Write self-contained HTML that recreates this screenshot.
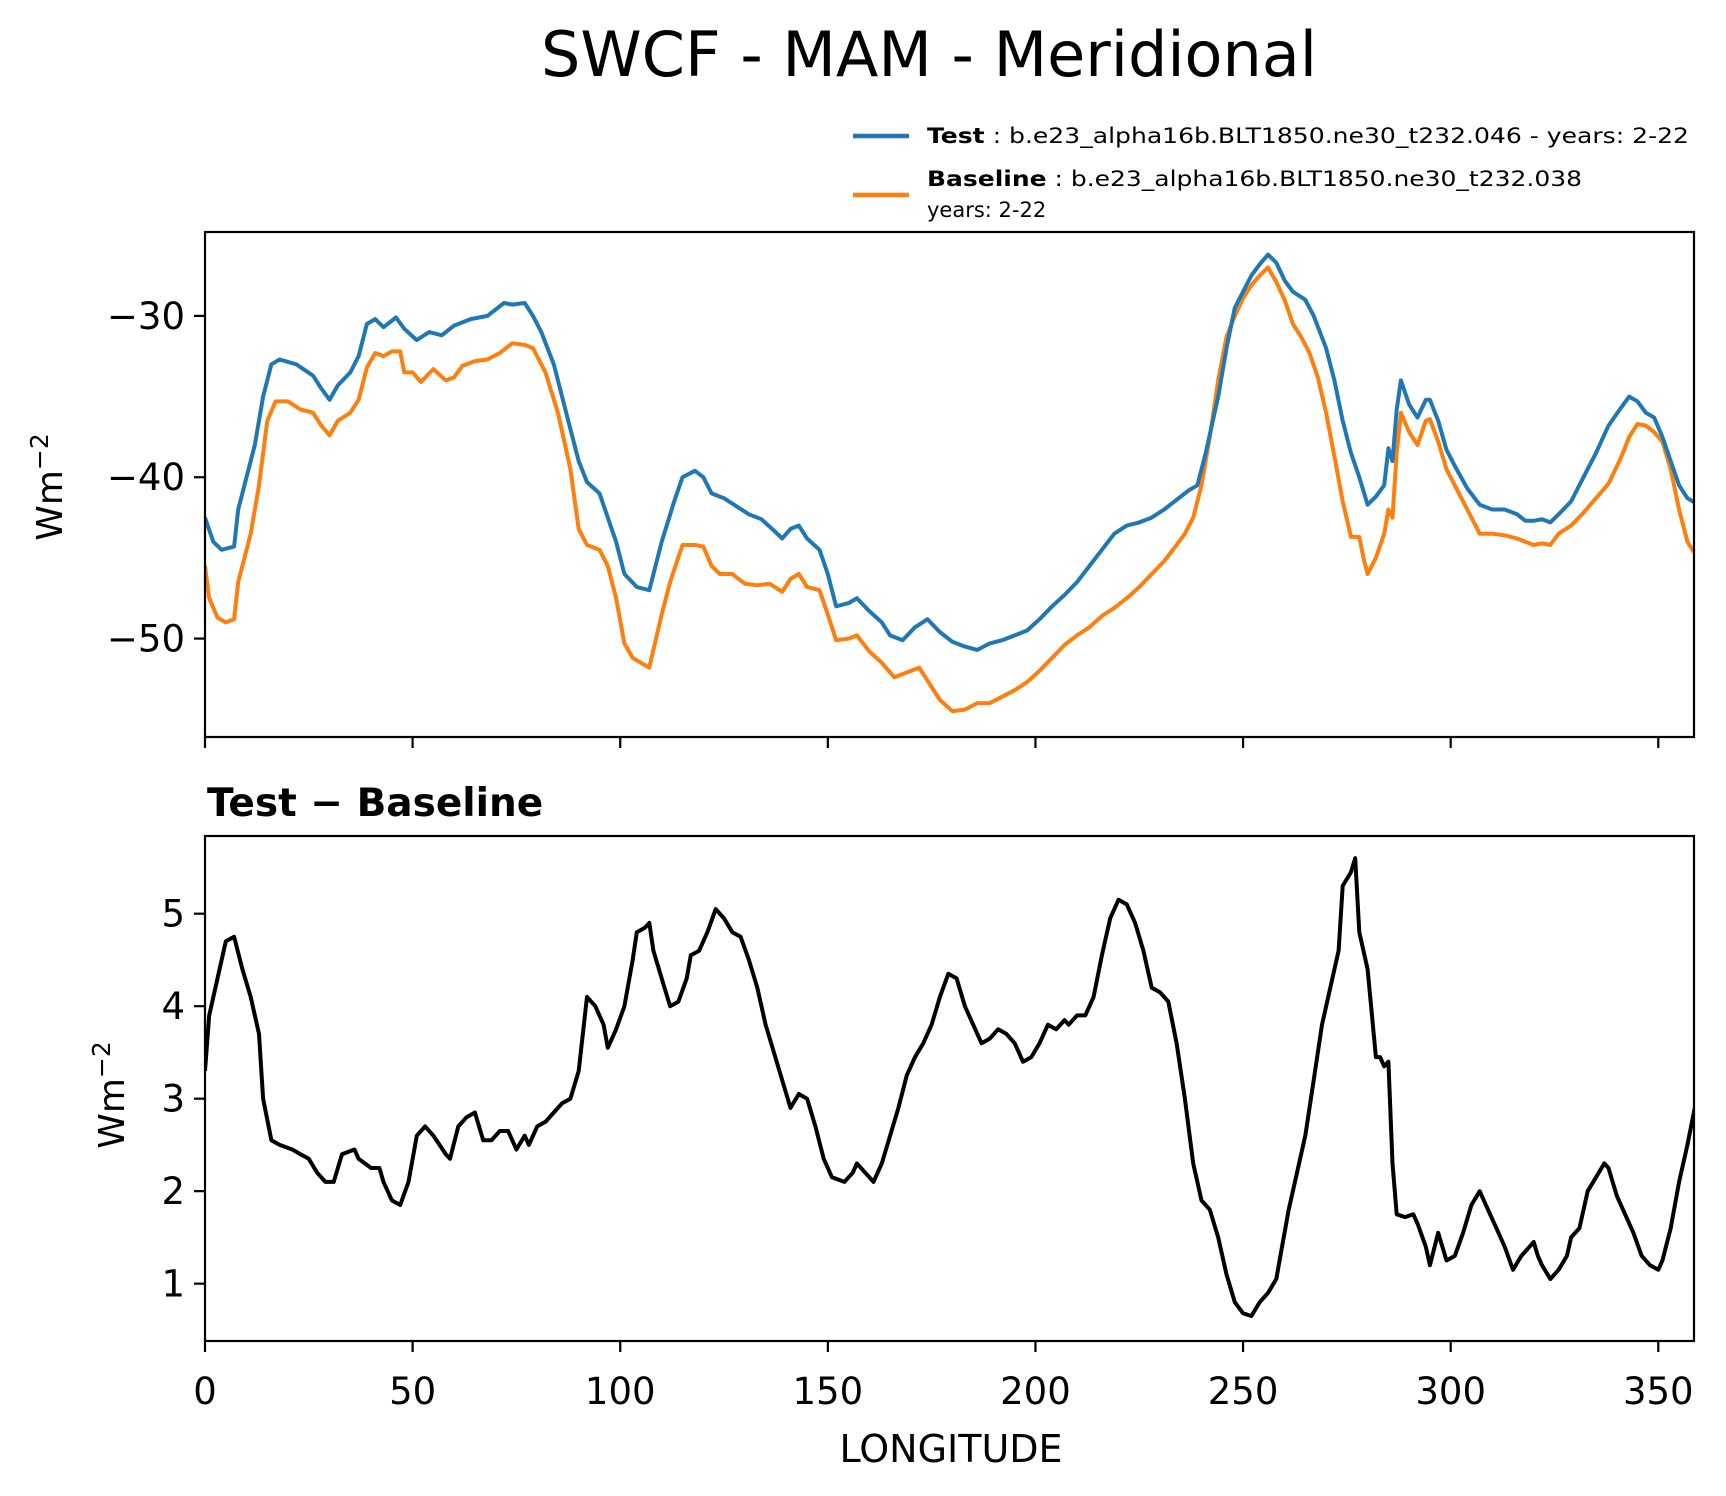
<!DOCTYPE html>
<html><head><meta charset="utf-8"><style>
body{margin:0;background:#fff;}
svg{display:block;font-family:"DejaVu Sans","Liberation Sans",sans-serif;}
</style></head>
<body>
<svg id="chart" width="1726" height="1496" viewBox="0 0 1726 1496">
<rect width="1726" height="1496" fill="#fff"/>
<text x="929" y="76" font-size="62" text-anchor="middle">SWCF - MAM - Meridional</text>
<g>
<line x1="853" y1="136" x2="909" y2="136" stroke="#1f77b4" stroke-width="4.5"/>
<text x="927" y="143" font-size="21" textLength="762" lengthAdjust="spacingAndGlyphs"><tspan font-weight="bold">Test</tspan> : b.e23_alpha16b.BLT1850.ne30_t232.046 - years: 2-22</text>
<line x1="853" y1="195" x2="909" y2="195" stroke="#ff7f0e" stroke-width="4.5"/>
<text x="927" y="186" font-size="21" textLength="655" lengthAdjust="spacingAndGlyphs"><tspan font-weight="bold">Baseline</tspan> : b.e23_alpha16b.BLT1850.ne30_t232.038</text>
<text x="927" y="217" font-size="21">years: 2-22</text>
</g>
<text x="207" y="816" font-size="39" font-weight="bold">Test − Baseline</text>
<text transform="translate(62,487) rotate(-90)" font-size="36" text-anchor="middle">Wm<tspan dy="-14" font-size="25">−2</tspan></text>
<text transform="translate(124,1095) rotate(-90)" font-size="36" text-anchor="middle">Wm<tspan dy="-14" font-size="25">−2</tspan></text>
<text x="951" y="1462" font-size="38" text-anchor="middle">LONGITUDE</text>
<g id="top"></g>
<g id="bot"></g>
</svg>
<script>
const testLon=[0,2,4,7,8,12,14,16,18,22,26,28,30,32,35,37,39,41,43,46,48,51,54,57,60,64,68,72,74,77,79,81,84,87,90,92,95,97,99,101,104,107,110,113,115,118,120,122,125,128,131,134,137,139,141,143,145,148,150,152,155,157,160,163,165,168,171,174,177,180,183,186,189,192,195,198,201,204,207,210,213,216,219,222,225,228,231,234,237,239,241,244,246,248,250,252,254,256,258,260,262,265,267,270,272,274,276,278,280,282,284,285,286,287,288,290,292,294,295,297,299,301,304,307,310,313,316,318,320,322,324,326,329,332,335,338,341,343,345,347,349,351,353,355,357,359];
const testVal=[-42.5,-44,-44.5,-44.3,-42,-38,-35,-33,-32.7,-33,-33.7,-34.5,-35.2,-34.3,-33.5,-32.5,-30.5,-30.2,-30.7,-30.1,-30.8,-31.5,-31,-31.2,-30.6,-30.2,-30,-29.2,-29.3,-29.2,-30,-31,-33,-36,-39,-40.3,-41,-42.5,-44,-46,-46.8,-47,-44,-41.5,-40,-39.6,-40,-41,-41.3,-41.8,-42.3,-42.6,-43.3,-43.8,-43.2,-43,-43.8,-44.5,-46,-48,-47.8,-47.5,-48.3,-49,-49.8,-50.1,-49.3,-48.8,-49.6,-50.2,-50.5,-50.7,-50.3,-50.1,-49.8,-49.5,-48.8,-48,-47.3,-46.5,-45.5,-44.5,-43.5,-43,-42.8,-42.5,-42,-41.4,-40.8,-40.5,-38.5,-35,-32,-29.5,-28.5,-27.5,-26.8,-26.2,-26.7,-27.8,-28.5,-29,-30,-32,-34,-36.5,-38.5,-40,-41.7,-41.2,-40.5,-38.2,-39,-35.8,-34,-35.5,-36.3,-35.2,-35.2,-36.5,-38.3,-39.3,-40.7,-41.7,-42,-42,-42.3,-42.7,-42.7,-42.6,-42.8,-42.3,-41.5,-40,-38.5,-36.8,-35.7,-35,-35.3,-36,-36.3,-37.5,-39,-40.5,-41.3,-41.6];
const baseLon=[0,1,3,5,7,8,11,13,15,17,20,23,26,28,30,32,35,37,39,41,43,45,47,48,50,52,55,58,60,62,65,68,71,74,77,79,82,85,88,90,92,95,97,99,101,103,105,107,110,112,115,118,120,122,124,127,130,133,136,139,141,143,145,148,150,152,155,157,160,163,166,169,172,175,177,180,183,186,189,192,195,198,201,204,207,210,213,216,219,222,225,228,231,234,236,238,240,242,244,246,248,250,252,254,256,258,260,262,264,266,268,270,272,274,276,278,279,280,282,284,285,286,287,288,290,292,294,295,297,299,301,304,307,310,313,316,318,320,322,324,326,329,332,335,338,341,343,345,347,349,351,353,355,357,359];
const baseVal=[-45.5,-47.5,-48.7,-49,-48.8,-46.5,-43.5,-40.5,-36.5,-35.3,-35.3,-35.8,-36,-36.8,-37.4,-36.5,-36,-35.2,-33.2,-32.3,-32.5,-32.2,-32.2,-33.5,-33.5,-34.1,-33.3,-34,-33.8,-33.1,-32.8,-32.7,-32.3,-31.7,-31.8,-32,-33.5,-36,-39.5,-43.2,-44.2,-44.5,-45.5,-47.5,-50.3,-51.2,-51.5,-51.8,-48.5,-46.5,-44.2,-44.2,-44.3,-45.5,-46,-46,-46.6,-46.7,-46.6,-47.1,-46.3,-46,-46.8,-47,-48.5,-50.1,-50,-49.8,-50.8,-51.5,-52.4,-52.1,-51.8,-53,-53.8,-54.5,-54.4,-54,-54,-53.6,-53.2,-52.7,-52,-51.2,-50.4,-49.8,-49.3,-48.6,-48.1,-47.5,-46.8,-46,-45.2,-44.2,-43.5,-42.5,-40.5,-37.5,-34,-31.3,-30,-28.9,-28.1,-27.5,-27,-27.9,-29,-30.5,-31.3,-32.3,-33.8,-36,-38.7,-41.5,-43.7,-43.7,-45,-46,-45,-43.5,-42,-42.5,-38.5,-36,-37.2,-38,-36.5,-36.4,-37.8,-39.5,-40.5,-42,-43.5,-43.5,-43.6,-43.8,-44,-44.2,-44.1,-44.2,-43.5,-43,-42.2,-41.3,-40.4,-38.8,-37.5,-36.7,-36.8,-37.2,-37.8,-39.5,-42,-44,-44.8];
const diffLon=[0,1,3,5,7,9,11,13,14,16,18,21,23,25,27,29,31,33,36,37,40,42,43,45,47,49,51,53,55,58,59,61,63,65,67,69,71,73,75,77,78,80,82,84,86,88,90,92,94,96,97,99,101,103,104,106,107,108,110,112,114,116,117,119,121,123,125,127,129,131,133,135,137,139,141,143,145,147,149,151,154,156,157,159,161,163,165,167,169,171,173,175,177,179,181,183,185,187,189,191,193,195,197,199,201,203,205,207,208,210,212,214,216,218,220,222,224,226,228,230,232,234,236,238,240,242,244,246,248,250,252,254,256,258,259,261,263,265,267,269,271,273,274,276,277,278,280,282,283,284,285,286,287,289,291,292,294,295,297,299,301,303,305,307,309,311,313,315,317,319,320,321,322,324,326,328,329,331,333,335,337,338,340,342,344,346,348,350,351,353,355,357,359];
const diffVal=[3.3,3.9,4.3,4.7,4.75,4.4,4.1,3.7,3.0,2.55,2.5,2.45,2.4,2.35,2.2,2.1,2.1,2.4,2.45,2.35,2.25,2.25,2.1,1.9,1.85,2.1,2.6,2.7,2.6,2.4,2.35,2.7,2.8,2.85,2.55,2.55,2.65,2.65,2.45,2.6,2.5,2.7,2.75,2.85,2.95,3.0,3.3,4.1,4.0,3.8,3.55,3.75,4.0,4.5,4.8,4.85,4.9,4.6,4.3,4.0,4.05,4.3,4.55,4.6,4.8,5.05,4.95,4.8,4.75,4.5,4.2,3.8,3.5,3.2,2.9,3.05,3.0,2.7,2.35,2.15,2.1,2.2,2.3,2.2,2.1,2.3,2.6,2.9,3.25,3.45,3.6,3.8,4.1,4.35,4.3,4.0,3.8,3.6,3.65,3.75,3.7,3.6,3.4,3.45,3.6,3.8,3.75,3.85,3.8,3.9,3.9,4.1,4.55,4.95,5.15,5.1,4.9,4.6,4.2,4.15,4.05,3.6,3.0,2.3,1.9,1.8,1.5,1.1,0.8,0.68,0.65,0.8,0.9,1.05,1.3,1.8,2.2,2.6,3.2,3.8,4.2,4.6,5.3,5.45,5.6,4.8,4.4,3.45,3.45,3.35,3.4,2.3,1.75,1.72,1.75,1.65,1.4,1.2,1.55,1.25,1.3,1.55,1.85,2.0,1.8,1.6,1.4,1.15,1.3,1.4,1.45,1.3,1.2,1.05,1.15,1.3,1.5,1.6,2.0,2.15,2.3,2.25,1.95,1.75,1.55,1.3,1.2,1.15,1.25,1.6,2.1,2.5,2.95];
const xTicks=[0,50,100,150,200,250,300,350];
const topYTicks=[-30,-40,-50];
const botYTicks=[1,2,3,4,5];

const NS="http://www.w3.org/2000/svg";
const L=205,R=1694,XMAX=358.6;
const sx=v=>L+(v/XMAX)*(R-L);
const TT=232,TB=737,TYMIN=-56.1,TYMAX=-24.8;
const syT=v=>TB-(v-TYMIN)/(TYMAX-TYMIN)*(TB-TT);
const BT=836,BB=1341,BYMIN=0.38,BYMAX=5.84;
const syB=v=>BB-(v-BYMIN)/(BYMAX-BYMIN)*(BB-BT);
function mk(tag,attrs,parent){const e=document.createElementNS(NS,tag);for(const k in attrs)e.setAttribute(k,attrs[k]);parent.appendChild(e);return e;}
function path(xs,ys,sy){return xs.map((x,i)=>(i?'L':'M')+sx(x).toFixed(1)+','+sy(ys[i]).toFixed(1)).join('');}
const gTop=document.getElementById('top'),gBot=document.getElementById('bot');
const defs=mk('defs',{},document.getElementById('chart'));
const c1=mk('clipPath',{id:'c1'},defs);mk('rect',{x:L,y:TT,width:R-L,height:TB-TT},c1);
const c2=mk('clipPath',{id:'c2'},defs);mk('rect',{x:L,y:BT,width:R-L,height:BB-BT},c2);

let p=mk('path',{d:path(baseLon,baseVal,syT),fill:'none',stroke:'#ff7f0e','stroke-width':4,'stroke-linejoin':'round','clip-path':'url(#c1)'},gTop);


p=mk('path',{d:path(testLon,testVal,syT),fill:'none',stroke:'#1f77b4','stroke-width':4,'stroke-linejoin':'round','clip-path':'url(#c1)'},gTop);


p=mk('path',{d:path(diffLon,diffVal,syB),fill:'none',stroke:'#000','stroke-width':4,'stroke-linejoin':'round','clip-path':'url(#c2)'},gBot);



let f=mk('rect',{x:L,y:TT,width:R-L,height:TB-TT,fill:'none',stroke:'#000','stroke-width':2.2},gTop);


f=mk('rect',{x:L,y:BT,width:R-L,height:BB-BT,fill:'none',stroke:'#000','stroke-width':2.2},gBot);



xTicks.forEach(v=>{
  let t=mk('line',{x1:sx(v),x2:sx(v),y1:TB,y2:TB+11,stroke:'#000','stroke-width':2.2},gTop);
  
  
  t=mk('line',{x1:sx(v),x2:sx(v),y1:BB,y2:BB+11,stroke:'#000','stroke-width':2.2},gBot);
  
  
  const tx=mk('text',{x:sx(v),y:1404,'font-size':37,'text-anchor':'middle'},gBot);
  tx.textContent=v;
  
  
});
topYTicks.forEach(v=>{
  const t=mk('line',{x1:L-11,x2:L,y1:syT(v),y2:syT(v),stroke:'#000','stroke-width':2.2},gTop);
  
  
  const tx=mk('text',{x:L-20,y:syT(v)+13,'font-size':37,'text-anchor':'end'},gTop);
  tx.textContent='−'+Math.abs(v);
  
  
});
botYTicks.forEach(v=>{
  const t=mk('line',{x1:L-11,x2:L,y1:syB(v),y2:syB(v),stroke:'#000','stroke-width':2.2},gBot);
  
  
  const tx=mk('text',{x:L-20,y:syB(v)+13,'font-size':37,'text-anchor':'end'},gBot);
  tx.textContent=v;
  
  
});
</script>
</body></html>
